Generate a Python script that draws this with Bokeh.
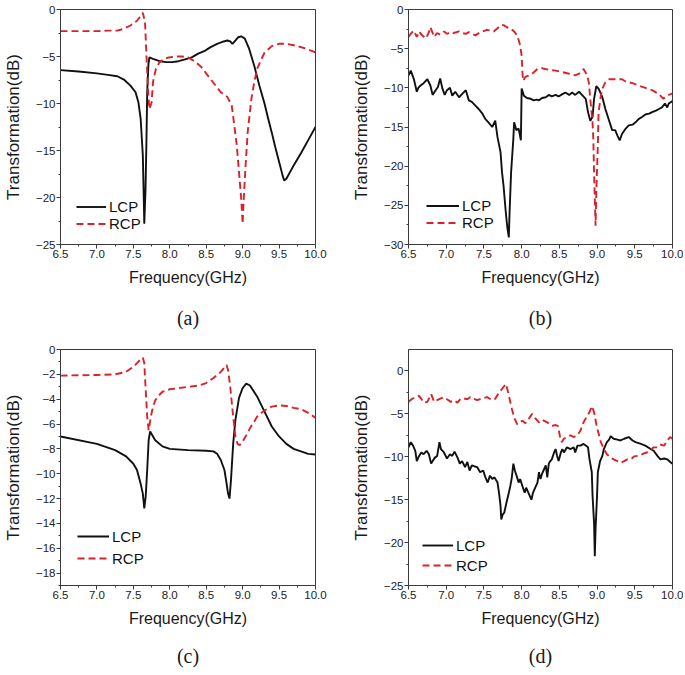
from bokeh.plotting import figure
from bokeh.layouts import column, row
from bokeh.models import (Range1d, FixedTicker, Legend, LegendItem, LinearAxis,
                          NumeralTickFormatter)
from bokeh.embed import file_html
from bokeh.resources import INLINE

# ---------------- data ----------------
freq_ticks = [6.5, 7.0, 7.5, 8.0, 8.5, 9.0, 9.5, 10.0]
freq_minor = [6.75, 7.25, 7.75, 8.25, 8.75, 9.25, 9.75]

series_names = ["LCP", "RCP"]
x_label = "Frequency(GHz)"
y_label = "Transformation(dB)"
panel_labels = ["(a)", "(b)", "(c)", "(d)"]

# panel (a)
a_y_ticks = [-25, -20, -15, -10, -5, 0]
a_y_minor = [-22.5, -17.5, -12.5, -7.5, -2.5]
a_lcp_x = [6.5, 6.75, 7.0, 7.15, 7.28, 7.37, 7.46, 7.53, 7.57, 7.6, 7.63, 7.645, 7.65, 7.667,
           7.68, 7.69, 7.707, 7.72, 7.77, 7.86, 7.95, 8.03, 8.12, 8.21, 8.3, 8.39, 8.48, 8.56,
           8.65, 8.74, 8.79, 8.83, 8.86, 8.9, 8.94, 8.98, 9.03, 9.09, 9.16, 9.23, 9.3, 9.35,
           9.4, 9.45, 9.5, 9.55, 9.57, 9.6, 9.65, 9.7, 9.8, 9.9, 10.0]
a_lcp_y = [-6.45, -6.6, -6.8, -6.95, -7.1, -7.45, -8.1, -8.8, -9.9, -11.6, -15.5, -20.9, -22.8, -19.1,
           -13.8, -8.8, -5.8, -5.1, -5.25, -5.5, -5.6, -5.6, -5.5, -5.3, -5.1, -4.7, -4.4, -4.0,
           -3.65, -3.4, -3.3, -3.4, -3.65, -3.3, -2.95, -2.85, -3.1, -4.2, -6.0, -8.1, -10.0, -11.6,
           -13.1, -14.7, -16.2, -17.7, -18.2, -18.0, -17.3, -16.6, -15.3, -13.9, -12.5]
a_rcp_x = [6.5, 7.0, 7.15, 7.28, 7.37, 7.46, 7.55, 7.59, 7.63, 7.66, 7.68, 7.7, 7.72, 7.75,
           7.77, 7.81, 7.86, 7.92, 7.99, 8.08, 8.17, 8.25, 8.34, 8.43, 8.52, 8.61, 8.7, 8.79,
           8.85, 8.88, 8.92, 8.95, 8.98, 9.0, 9.01, 9.04, 9.07, 9.12, 9.16, 9.2, 9.26, 9.3,
           9.4, 9.5, 9.6, 9.7, 9.8, 9.9, 10.0]
a_rcp_y = [-2.3, -2.3, -2.25, -2.25, -2.05, -1.7, -1.2, -0.8, -0.35, -1.35, -4.9, -8.4, -10.6, -9.9,
           -7.7, -6.3, -5.6, -5.25, -5.1, -5.0, -5.0, -5.1, -5.5, -6.1, -7.0, -7.9, -8.8, -9.3,
           -10.2, -12.0, -14.5, -17.3, -20.1, -22.8, -20.9, -16.6, -13.0, -9.5, -7.7, -6.3, -5.25, -4.6,
           -3.9, -3.65, -3.65, -3.8, -4.0, -4.25, -4.55]

# panel (b)
b_y_ticks = [-30, -25, -20, -15, -10, -5, 0]
b_y_minor = [-27.5, -22.5, -17.5, -12.5, -7.5, -2.5]
b_lcp_x = [6.5, 6.53, 6.57, 6.61, 6.63, 6.66, 6.70, 6.75, 6.79, 6.82, 6.86, 6.89, 6.92, 6.95,
           6.98, 7.01, 7.05, 7.08, 7.12, 7.17, 7.21, 7.26, 7.30, 7.34, 7.39, 7.43, 7.48, 7.52,
           7.56, 7.61, 7.65, 7.68, 7.72, 7.74, 7.76, 7.79, 7.81, 7.83, 7.84, 7.86, 7.89, 7.90,
           7.93, 7.96, 7.99, 8.0, 8.03, 8.07, 8.12, 8.16, 8.20, 8.23, 8.27, 8.32, 8.36, 8.40,
           8.45, 8.49, 8.54, 8.58, 8.63, 8.67, 8.71, 8.76, 8.80, 8.85, 8.88, 8.91, 8.94, 8.96,
           8.99, 9.02, 9.07, 9.11, 9.16, 9.20, 9.24, 9.27, 9.30, 9.33, 9.38, 9.42, 9.47, 9.51,
           9.55, 9.60, 9.64, 9.69, 9.73, 9.78, 9.82, 9.86, 9.90, 9.93, 9.95, 10.0]
b_lcp_y = [-8.4, -7.8, -8.85, -10.5, -10.0, -9.7, -9.4, -8.9, -9.7, -10.9, -10.3, -9.9, -8.8, -10.1,
           -10.9, -10.3, -10.0, -11.0, -10.5, -11.2, -10.8, -10.3, -11.6, -11.8, -12.3, -12.7, -13.3, -14.0,
           -14.4, -15.0, -14.2, -16.3, -18.2, -20.8, -22.5, -25.9, -27.8, -29.1, -25.9, -20.8, -16.5, -14.4,
           -15.4, -15.2, -16.7, -10.1, -11.0, -11.3, -11.4, -11.6, -11.5, -11.6, -11.3, -11.2, -10.9, -11.1,
           -10.9, -11.1, -10.8, -10.6, -10.9, -10.6, -10.9, -10.5, -10.9, -11.4, -13.1, -14.2, -13.7, -11.4,
           -9.8, -10.1, -11.2, -12.7, -14.2, -15.4, -15.4, -16.1, -16.7, -15.9, -15.2, -14.8, -14.7, -14.4,
           -14.0, -13.7, -13.4, -13.3, -13.1, -12.9, -12.7, -12.5, -12.0, -12.5, -12.0, -11.7]
b_rcp_x = [6.5, 6.53, 6.57, 6.61, 6.64, 6.68, 6.73, 6.77, 6.79, 6.84, 6.88, 6.92, 6.97, 7.01,
           7.06, 7.10, 7.17, 7.21, 7.26, 7.30, 7.34, 7.39, 7.45, 7.54, 7.59, 7.63, 7.68, 7.72,
           7.76, 7.81, 7.85, 7.90, 7.94, 7.97, 7.98, 8.0, 8.01, 8.02, 8.05, 8.10, 8.14, 8.21,
           8.27, 8.36, 8.45, 8.54, 8.63, 8.71, 8.76, 8.82, 8.87, 8.89, 8.91, 8.94, 8.95, 8.96,
           8.97, 8.98, 8.99, 9.01, 9.02, 9.05, 9.07, 9.11, 9.16, 9.24, 9.33, 9.38, 9.47, 9.55,
           9.64, 9.73, 9.82, 9.88, 9.93, 10.0]
b_rcp_y = [-3.5, -3.1, -2.7, -3.5, -2.8, -3.3, -3.7, -2.9, -2.25, -3.5, -3.0, -3.2, -2.8, -3.1,
           -2.9, -3.0, -2.8, -3.0, -3.1, -2.9, -3.1, -3.3, -2.9, -2.6, -2.7, -2.8, -2.4, -2.0,
           -2.0, -2.3, -2.4, -2.8, -3.3, -4.2, -4.6, -5.9, -8.0, -9.1, -8.6, -8.4, -8.2, -7.6,
           -7.5, -7.7, -7.8, -8.0, -8.2, -8.4, -8.2, -7.6, -8.4, -9.3, -11.4, -14.4, -16.5, -20.8,
           -24.2, -27.6, -23.3, -17.4, -13.1, -11.0, -10.1, -9.3, -8.9, -8.9, -8.9, -9.2, -9.4, -9.7,
           -10.0, -10.3, -10.8, -11.4, -11.0, -10.7]

# panel (c)
c_y_ticks = [-18, -16, -14, -12, -10, -8, -6, -4, -2, 0]
c_y_minor = [-19, -17, -15, -13, -11, -9, -7, -5, -3, -1]
c_lcp_x = [6.5, 7.0, 7.25, 7.4, 7.5, 7.55, 7.6, 7.63, 7.65, 7.67, 7.69, 7.71, 7.73, 7.76,
           7.8, 7.9, 8.0, 8.25, 8.5, 8.6, 8.65, 8.7, 8.75, 8.78, 8.8, 8.82, 8.84, 8.87,
           8.9, 8.95, 9.0, 9.05, 9.1, 9.2, 9.3, 9.4, 9.5, 9.6, 9.7, 9.8, 9.9, 10.0]
c_lcp_y = [-7.0, -7.6, -8.1, -8.6, -9.2, -9.7, -10.8, -11.6, -12.8, -11.8, -9.7, -7.3, -6.6, -6.9,
           -7.3, -7.8, -8.0, -8.1, -8.15, -8.2, -8.4, -8.9, -9.7, -10.8, -11.6, -12.0, -10.5, -7.6,
           -5.7, -3.9, -3.1, -2.75, -2.9, -3.8, -5.0, -6.2, -7.0, -7.6, -8.0, -8.2, -8.4, -8.45]
c_rcp_x = [6.5, 7.0, 7.25, 7.4, 7.5, 7.55, 7.6, 7.63, 7.65, 7.67, 7.69, 7.71, 7.74, 7.77,
           7.8, 7.85, 7.9, 8.0, 8.2, 8.4, 8.5, 8.6, 8.7, 8.75, 8.78, 8.8, 8.83, 8.87,
           8.9, 8.93, 8.96, 9.0, 9.05, 9.1, 9.2, 9.3, 9.4, 9.5, 9.6, 9.7, 9.8, 9.9, 10.0]
c_rcp_y = [-2.1, -2.05, -2.0, -1.8, -1.4, -1.1, -0.8, -0.65, -1.1, -3.3, -5.4, -6.5, -5.4, -4.6,
           -4.1, -3.7, -3.4, -3.2, -3.05, -2.9, -2.7, -2.3, -1.8, -1.45, -1.25, -1.65, -3.0, -5.4,
           -7.0, -7.6, -7.7, -7.4, -6.9, -6.35, -5.4, -4.9, -4.6, -4.5, -4.55, -4.7, -4.8, -5.1, -5.5]

# panel (d)
d_y_ticks = [-25, -20, -15, -10, -5, 0]
d_y_minor = [-22.5, -17.5, -12.5, -7.5, -2.5]
d_lcp_x = [6.50, 6.53, 6.56, 6.59, 6.61, 6.64, 6.67, 6.70, 6.74, 6.77, 6.80, 6.82, 6.85, 6.88,
           6.91, 6.93, 6.97, 7.01, 7.05, 7.08, 7.11, 7.15, 7.18, 7.21, 7.25, 7.28, 7.31, 7.34,
           7.37, 7.41, 7.45, 7.49, 7.52, 7.55, 7.58, 7.61, 7.64, 7.68, 7.70, 7.72, 7.73, 7.75,
           7.77, 7.80, 7.83, 7.85, 7.87, 7.89, 7.91, 7.94, 7.96, 7.98, 8.01, 8.04, 8.06, 8.10,
           8.13, 8.15, 8.18, 8.21, 8.23, 8.25, 8.27, 8.29, 8.32, 8.34, 8.36, 8.38, 8.40, 8.43,
           8.45, 8.47, 8.49, 8.52, 8.54, 8.56, 8.58, 8.60, 8.65, 8.69, 8.71, 8.74, 8.78, 8.82,
           8.85, 8.88, 8.90, 8.93, 8.94, 8.96, 8.97, 8.98, 9.00, 9.01, 9.04, 9.07, 9.09, 9.11,
           9.13, 9.16, 9.18, 9.22, 9.27, 9.31, 9.36, 9.42, 9.47, 9.51, 9.58, 9.64, 9.71, 9.75,
           9.80, 9.84, 9.89, 9.93, 9.97, 10.0]
d_lcp_y = [-8.9, -8.3, -8.7, -9.3, -10.5, -9.9, -9.5, -9.7, -9.3, -9.7, -10.8, -10.5, -10.1, -9.9,
           -8.3, -9.1, -9.5, -10.2, -9.7, -9.9, -9.4, -10.1, -10.8, -10.5, -11.2, -10.6, -11.6, -11.0,
           -11.1, -11.2, -11.8, -11.6, -12.4, -13.0, -12.2, -12.6, -12.4, -13.0, -14.2, -15.7, -17.3, -16.7,
           -16.5, -15.3, -14.2, -13.4, -12.4, -10.8, -11.6, -12.4, -13.0, -12.6, -13.4, -14.2, -13.6, -14.4,
           -15.0, -14.2, -13.6, -13.0, -11.8, -12.6, -12.0, -11.6, -11.0, -12.4, -10.8, -10.5, -10.3, -9.5,
           -9.1, -9.9, -10.5, -9.5, -9.1, -9.5, -9.2, -8.9, -9.1, -8.9, -9.5, -8.7, -8.7, -8.5,
           -8.7, -8.9, -10.3, -11.8, -14.5, -17.7, -21.6, -18.4, -14.5, -11.8, -10.5, -9.9, -9.1, -8.7,
           -8.3, -8.0, -7.6, -7.9, -8.0, -8.1, -7.9, -7.7, -8.1, -8.3, -8.5, -8.7, -9.1, -9.3,
           -9.9, -10.3, -10.2, -10.3, -10.6, -10.8]
d_rcp_x = [6.50, 6.55, 6.59, 6.64, 6.67, 6.70, 6.75, 6.80, 6.84, 6.88, 6.93, 6.97, 7.01, 7.06,
           7.10, 7.15, 7.19, 7.23, 7.28, 7.32, 7.37, 7.41, 7.48, 7.54, 7.61, 7.65, 7.70, 7.74,
           7.79, 7.81, 7.84, 7.87, 7.90, 7.94, 7.97, 8.01, 8.05, 8.10, 8.14, 8.18, 8.23, 8.27,
           8.32, 8.36, 8.40, 8.45, 8.48, 8.51, 8.53, 8.56, 8.60, 8.65, 8.69, 8.74, 8.78, 8.82,
           8.87, 8.90, 8.93, 8.96, 8.99, 9.02, 9.05, 9.09, 9.13, 9.18, 9.22, 9.27, 9.31, 9.36,
           9.40, 9.45, 9.49, 9.53, 9.58, 9.62, 9.66, 9.71, 9.75, 9.80, 9.84, 9.89, 9.93, 9.97, 10.0]
d_rcp_y = [-3.6, -3.25, -3.05, -2.9, -3.25, -3.7, -3.6, -2.7, -3.6, -3.4, -3.2, -3.05, -3.3, -3.6,
           -3.4, -3.7, -3.25, -3.2, -3.3, -3.05, -3.25, -3.4, -3.2, -3.05, -3.4, -3.25, -2.5, -2.1,
           -1.5, -2.1, -3.25, -4.4, -5.4, -6.2, -6.0, -5.8, -6.1, -5.5, -5.0, -5.5, -6.0, -5.7,
           -5.9, -6.1, -6.4, -6.3, -6.4, -7.7, -8.3, -7.9, -7.7, -7.5, -7.7, -7.5, -6.95, -6.0,
           -5.2, -4.8, -4.1, -4.8, -6.2, -7.3, -8.3, -9.1, -9.7, -10.1, -10.3, -10.5, -10.7, -10.5,
           -10.3, -10.3, -9.95, -9.9, -9.8, -9.6, -9.5, -9.2, -8.9, -8.9, -8.6, -8.7, -8.1, -7.7, -7.9]

# ---------------- styling ----------------
BLACK = "#111111"
RED = "#d8232a"
FRAME = "#3a3a3a"
SANS = "Liberation Sans"
SERIF = "Liberation Serif"


def make_panel(width, height, borders, y_range, y_ticks, y_minor, lcp, rcp, label,
               legend_loc, legend_glyph_w, legend_item_h, label_standoff, label_bounds):
    left, right, top, bottom = borders
    p = figure(width=width, height=height, output_backend="svg", toolbar_location=None,
               x_range=Range1d(6.5, 10.0), y_range=Range1d(*y_range),
               min_border_left=left, min_border_right=right,
               min_border_top=top, min_border_bottom=bottom)
    p.xgrid.visible = False
    p.ygrid.visible = False
    p.outline_line_color = FRAME
    p.outline_line_width = 1
    p.background_fill_color = "white"
    p.border_fill_color = "white"

    p.xaxis.ticker = FixedTicker(ticks=freq_ticks, minor_ticks=freq_minor)
    p.xaxis.formatter = NumeralTickFormatter(format="0.0")
    p.yaxis.ticker = FixedTicker(ticks=y_ticks, minor_ticks=y_minor)

    for ax in (p.xaxis[0], p.yaxis[0]):
        ax.axis_line_color = FRAME
        ax.major_tick_line_color = FRAME
        ax.minor_tick_line_color = FRAME
        ax.major_tick_out = 4
        ax.major_tick_in = 0
        ax.minor_tick_out = 2
        ax.minor_tick_in = 0
        ax.major_label_text_font = SANS
        ax.major_label_text_font_size = "11.5px"
        ax.major_label_text_color = "#222222"
        ax.major_label_standoff = 1
        ax.axis_label_text_font = SANS
        ax.axis_label_text_font_style = "normal"
        ax.axis_label_text_color = "#1a1a1a"
    p.xaxis.axis_label = x_label
    p.xaxis.axis_label_text_font_size = "16px"
    p.xaxis.axis_label_standoff = 8
    p.yaxis.axis_label = y_label
    p.yaxis.axis_label_text_font_size = "17px"
    p.yaxis.axis_label_standoff = 10

    r1 = p.line(lcp[0], lcp[1], line_color=BLACK, line_width=1.9)
    r2 = p.line(rcp[0], rcp[1], line_color=RED, line_width=1.9, line_dash="7 4")

    leg = Legend(items=[LegendItem(label=series_names[0], renderers=[r1]),
                        LegendItem(label=series_names[1], renderers=[r2])],
                 location=legend_loc, border_line_color=None, background_fill_alpha=0,
                 label_text_font=SANS, label_text_font_size="15px", label_text_color="#111111",
                 glyph_width=legend_glyph_w, glyph_height=legend_item_h, label_height=legend_item_h,
                 label_standoff=3, spacing=0, padding=0, margin=0)
    p.add_layout(leg)

    # panel letter: a bare second bottom axis whose only text is its label
    letter_axis = LinearAxis(ticker=FixedTicker(ticks=[]), axis_label=label,
                             bounds=label_bounds,
                             axis_line_color=None, major_tick_line_color=None,
                             minor_tick_line_color=None, major_tick_out=0, minor_tick_out=0,
                             major_tick_in=0, minor_tick_in=0, major_label_standoff=0,
                             axis_label_standoff=label_standoff,
                             axis_label_text_font=SERIF, axis_label_text_font_size="20px",
                             axis_label_text_font_style="normal", axis_label_text_color="#1a1a1a")
    p.add_layout(letter_axis, "below")
    return p


pa = make_panel(340, 335, (51, 25, 9, 91), (-25, 0), a_y_ticks, a_y_minor,
                (a_lcp_x, a_lcp_y), (a_rcp_x, a_rcp_y), panel_labels[0],
                (16, 12), 30, 17, 18, (6.5, 9.79))
pb = make_panel(343, 335, (68, 11, 9, 91), (-30, 0), b_y_ticks, b_y_minor,
                (b_lcp_x, b_lcp_y), (b_rcp_x, b_rcp_y), panel_labels[1],
                (18, 13), 33, 17, 18, "auto")
pc = make_panel(340, 338, (51, 25, 14, 88), (-19, 0), c_y_ticks, c_y_minor,
                (c_lcp_x, c_lcp_y), (c_rcp_x, c_rcp_y), panel_labels[2],
                (17, 16), 32, 22, 15, (6.5, 9.79))
pd = make_panel(343, 338, (68, 11, 14, 88), (-25, 2.5), d_y_ticks, d_y_minor,
                (d_lcp_x, d_lcp_y), (d_rcp_x, d_rcp_y), panel_labels[3],
                (14, 10), 31, 20, 15, "auto")

layout = column(row(pa, pb), row(pc, pd))
open("out.html", "w").write(file_html(layout, INLINE))
